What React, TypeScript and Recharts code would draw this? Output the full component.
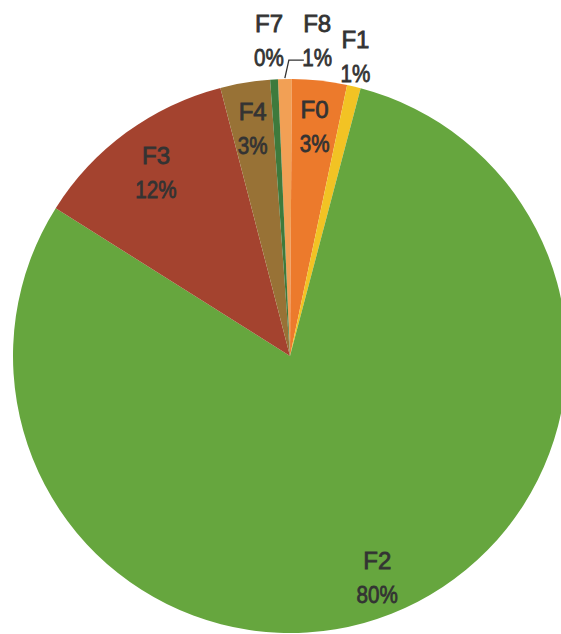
import { PieChart, Pie, Cell } from 'recharts';

// slices, clockwise from just left of 12 o'clock
const names = ['F8', 'F0', 'F1', 'F2', 'F3', 'F4', 'F7'];
const shares = [0.8, 3.2, 0.8, 79.85, 12.0, 2.9, 0.45];
const colors = ['#f2a055', '#ec7a2c', '#f2c324', '#66a63e', '#a4432f', '#987236', '#3e7a3c'];

// label placement: radius factor and angle nudge (deg), per slice
const labelRadius = [1.14, 0.83, 1.105, 0.86, 0.82, 0.83, 1.14];
const labelNudge = [-6, 0, 1, 0, 0, 0, 0.5];
const leader = [true, false, false, false, false, false, false];

const data = names.map((name, i) => ({ name, value: shares[i] }));

const RAD = Math.PI / 180;
const polar = (cx: number, cy: number, r: number, deg: number) => ({
  x: cx + r * Math.cos(-deg * RAD),
  y: cy + r * Math.sin(-deg * RAD),
});

const textStyle = {
  fontFamily: '"Liberation Sans", Arial, sans-serif',
  fontSize: 24,
  fill: '#333',
  stroke: '#333',
  strokeWidth: 0.8,
};

function renderLabel(props: any) {
  const { cx, cy, midAngle, outerRadius, index } = props;
  const p = polar(cx, cy, outerRadius * labelRadius[index], midAngle + labelNudge[index]);
  let line = null;
  if (leader[index]) {
    const s = polar(cx, cy, outerRadius + 1, midAngle);
    const ex = s.x + 4;
    const ey = s.y - 18;
    line = (
      <polyline
        points={`${s.x},${s.y} ${ex},${ey} ${ex + 15},${ey}`}
        fill="none"
        stroke="#333"
        strokeWidth={1.3}
      />
    );
  }
  return (
    <g key={`lbl-${index}`}>
      {line}
      <text x={p.x} y={p.y - 9} textAnchor="middle" style={textStyle}>
        {names[index]}
      </text>
      <g transform={`translate(${p.x},${p.y + 25}) scale(0.86,1)`}>
        <text x={0} y={0} textAnchor="middle" style={textStyle}>
          {Math.round(shares[index])}%
        </text>
      </g>
    </g>
  );
}

export default function App() {
  return (
    <div style={{ position: 'absolute', left: 0, top: 0, width: 561, height: 634, background: '#fff' }}>
      <PieChart width={561} height={634} margin={{ top: 0, right: 0, bottom: 0, left: 0 }}>
        <Pie
          data={data}
          dataKey="value"
          nameKey="name"
          cx={290}
          cy={356}
          outerRadius={277}
          startAngle={92.5}
          endAngle={-267.5}
          stroke="none"
          label={renderLabel}
          labelLine={false}
          isAnimationActive={false}
        >
          {data.map((_, i) => (
            <Cell key={i} fill={colors[i]} />
          ))}
        </Pie>
      </PieChart>
    </div>
  );
}
